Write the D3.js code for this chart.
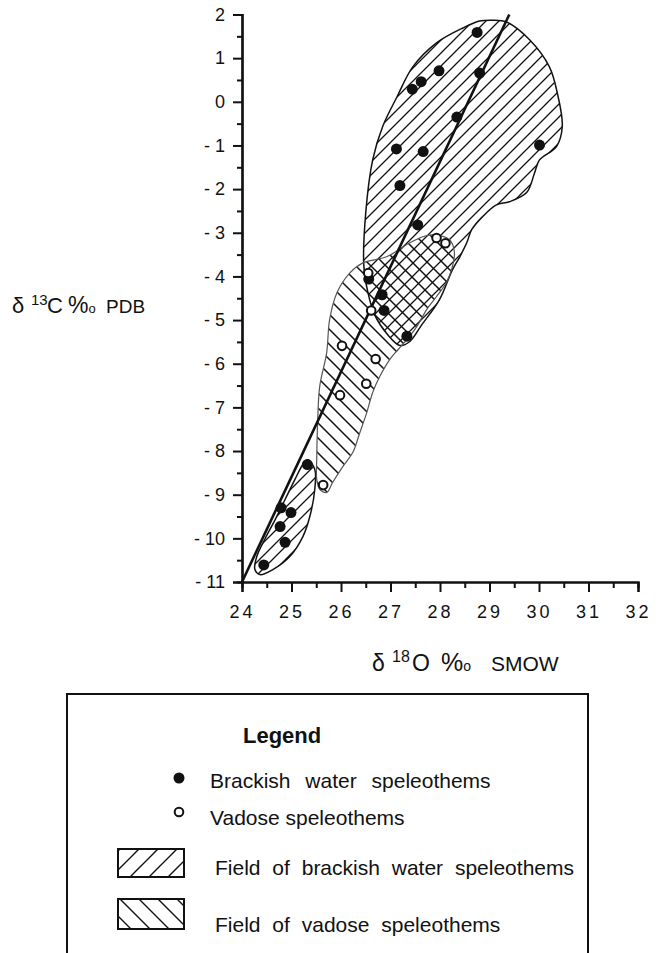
<!DOCTYPE html>
<html>
<head>
<meta charset="utf-8">
<script src="https://cdn.jsdelivr.net/npm/d3@7"></script>
<style>
  body { margin: 0; background: #fff; }
  svg { display: block; font-family: "Liberation Sans", Arial, sans-serif; }
</style>
</head>
<body>
<svg width="660" height="953"></svg>
<script>
// brackish water speleothems (filled dots)
const brackishX = [28.75, 27.98, 27.62, 27.44, 28.80, 28.34, 30.01, 27.12, 27.66, 27.19, 27.55,
                   26.56, 26.83, 26.87, 27.33, 25.32, 24.79, 24.99, 24.77, 24.87, 24.44];
const brackishY = [1.59, 0.71, 0.46, 0.29, 0.66, -0.35, -0.99, -1.08, -1.14, -1.92, -2.82,
                   -4.06, -4.42, -4.78, -5.37, -8.31, -9.30, -9.41, -9.73, -10.09, -10.61];

// vadose speleothems (open dots)
const vadoseX = [27.93, 28.11, 26.55, 26.61, 26.02, 26.70, 26.51, 25.98, 25.64];
const vadoseY = [-3.12, -3.24, -3.92, -4.78, -5.59, -5.89, -6.46, -6.72, -8.78];

// regression line end points
const trendLine = [[24, -11], [29.4, 2]];

// field outlines
const brackishField = [
  [29.06, 1.87], [29.34, 1.83], [29.81, 1.42], [30.21, 0.80], [30.37, 0.20], [30.47, -0.57],
  [30.35, -1.03], [30.01, -1.33], [29.91, -1.63], [29.75, -2.08], [29.40, -2.29], [29.14, -2.36],
  [28.86, -2.63], [28.64, -2.93], [28.54, -3.23], [28.40, -3.55], [28.25, -3.85], [27.99, -4.53],
  [27.63, -5.11], [27.39, -5.49], [27.19, -5.58], [26.94, -5.33], [26.68, -4.88], [26.54, -4.35],
  [26.46, -3.73], [26.50, -2.54], [26.64, -1.33], [26.84, -0.57], [27.13, 0.11], [27.45, 0.80],
  [27.93, 1.35], [28.46, 1.69], [28.80, 1.85]
];
const brackishFieldLow = [
  [25.33, -8.20], [25.47, -8.42], [25.47, -8.88], [25.37, -9.50], [25.23, -9.96], [24.97, -10.41],
  [24.63, -10.71], [24.36, -10.83], [24.26, -10.71], [24.30, -10.41], [24.46, -10.02], [24.67, -9.57],
  [24.87, -9.11], [25.07, -8.65], [25.23, -8.31]
];
const vadoseField = [
  [27.85, -3.05], [28.19, -3.16], [28.29, -3.43], [28.25, -3.78], [28.13, -4.14], [27.93, -4.46],
  [27.73, -4.76], [27.53, -5.15], [27.33, -5.45], [27.15, -5.68], [26.98, -5.91], [26.78, -6.30],
  [26.64, -6.66], [26.52, -7.12], [26.38, -7.58], [26.24, -8.03], [26.04, -8.35], [25.83, -8.72],
  [25.71, -8.95], [25.57, -8.88], [25.51, -8.65], [25.51, -8.19], [25.53, -7.28], [25.57, -6.52],
  [25.71, -5.75], [25.77, -4.99], [25.92, -4.37], [26.18, -3.92], [26.44, -3.69], [26.92, -3.55],
  [27.39, -3.23], [27.65, -3.09]
];

const xTicks = d3.range(24, 33, 1);
const yTicks = d3.range(-11, 3, 1);

const legendItems = ["Brackish water speleothems", "Vadose speleothems",
                     "Field of brackish water speleothems", "Field of vadose speleothems"];

const svg = d3.select("svg");
const x = d3.scaleLinear().domain([24, 32]).range([242, 638]);
const y = d3.scaleLinear().domain([-11, 2]).range([582, 14.5]);

// hatch patterns
const defs = svg.append("defs");
function hatch(id, s, dir, w) {
  const p = defs.append("pattern").attr("id", id)
    .attr("patternUnits", "userSpaceOnUse").attr("width", s).attr("height", s);
  const d = dir === "/"
    ? `M-1,1 l2,-2 M0,${s} l${s},${-s} M${s - 1},${s + 1} l2,-2`
    : `M-1,${s - 1} l2,2 M0,0 l${s},${s} M${s - 1},-1 l2,2`;
  p.append("path").attr("d", d).attr("stroke", "#111").attr("stroke-width", w);
}
hatch("hBrack", 13, "/", 1.3);
hatch("hVad", 15, "\\", 1.5);
hatch("lBrack", 19, "/", 1.4);
hatch("lVad", 19, "\\", 1.4);

const outline = d3.line().x(d => x(d[0])).y(d => y(d[1])).curve(d3.curveCatmullRomClosed);

svg.append("path").attr("d", outline(brackishField))
  .attr("fill", "url(#hBrack)").attr("stroke", "#111").attr("stroke-width", 1.5);
svg.append("path").attr("d", outline(brackishFieldLow))
  .attr("fill", "url(#hBrack)").attr("stroke", "#111").attr("stroke-width", 1.5);
svg.append("path").attr("d", outline(vadoseField))
  .attr("fill", "url(#hVad)").attr("stroke", "#555").attr("stroke-width", 1.2);

// axes
const fmt = d => d < 0 ? "- " + Math.abs(d) : String(d);
const yAxis = svg.append("g").attr("transform", `translate(${x(24)},0)`)
  .call(d3.axisLeft(y).tickValues(yTicks).tickFormat(fmt).tickSize(9).tickPadding(8));
svg.append("g").attr("transform", `translate(${x(24)},0)`)
  .call(d3.axisLeft(y).tickValues(yTicks.slice(0, -1).map(v => v + 0.5)).tickFormat("").tickSize(5));
const xAxis = svg.append("g").attr("transform", `translate(0,${y(-11)})`)
  .call(d3.axisBottom(x).tickValues(xTicks).tickSize(10).tickPadding(13));
svg.append("g").attr("transform", `translate(0,${y(-11)})`)
  .call(d3.axisBottom(x).tickValues(xTicks.slice(0, -1).map(v => v + 0.5)).tickFormat("").tickSize(6));

svg.selectAll(".domain").attr("stroke", "#111").attr("stroke-width", 2.2);
svg.selectAll(".tick line").attr("stroke", "#111").attr("stroke-width", 2);
yAxis.selectAll("text").attr("font-size", 18).attr("fill", "#111")
  .attr("font-family", "Liberation Sans, Arial, sans-serif");
xAxis.selectAll("text").attr("font-size", 18).attr("fill", "#111").attr("letter-spacing", 3)
  .attr("font-family", "Liberation Sans, Arial, sans-serif");

// trend line
svg.append("path")
  .attr("d", d3.line().x(d => x(d[0])).y(d => y(d[1]))(trendLine))
  .attr("stroke", "#111").attr("stroke-width", 2.6).attr("fill", "none");

// points
svg.append("g").selectAll("circle").data(d3.range(brackishX.length)).join("circle")
  .attr("cx", i => x(brackishX[i])).attr("cy", i => y(brackishY[i]))
  .attr("r", 5.5).attr("fill", "#111");
svg.append("g").selectAll("circle").data(d3.range(vadoseX.length)).join("circle")
  .attr("cx", i => x(vadoseX[i])).attr("cy", i => y(vadoseY[i]))
  .attr("r", 4.3).attr("fill", "#fff").attr("stroke", "#111").attr("stroke-width", 2);

// axis titles
const yt = svg.append("text").attr("y", 313).attr("fill", "#111");
yt.append("tspan").attr("x", 12).attr("font-size", 22).text("δ");
yt.append("tspan").attr("x", 31).attr("dy", -8).attr("font-size", 15).text("13");
yt.append("tspan").attr("x", 47).attr("dy", 8).attr("font-size", 22).text("C");
yt.append("tspan").attr("x", 68).attr("font-size", 23).text("%");
yt.append("tspan").attr("font-size", 13).text("o");
yt.append("tspan").attr("x", 106).attr("font-size", 19).text("PDB");

const xt = svg.append("text").attr("y", 671).attr("fill", "#111");
xt.append("tspan").attr("x", 372).attr("font-size", 23).text("δ");
xt.append("tspan").attr("x", 392).attr("dy", -9).attr("font-size", 16).text("18");
xt.append("tspan").attr("x", 412).attr("dy", 9).attr("font-size", 23).text("O");
xt.append("tspan").attr("x", 441).attr("font-size", 25).text("%");
xt.append("tspan").attr("font-size", 14).text("o");
xt.append("tspan").attr("x", 491).attr("font-size", 21).text("SMOW");

// legend
svg.append("path").attr("d", "M67,960 V694 H588 V960")
  .attr("fill", "none").attr("stroke", "#111").attr("stroke-width", 2);
svg.append("text").attr("x", 243).attr("y", 743).attr("font-size", 22)
  .attr("font-weight", "bold").attr("fill", "#111").text("Legend");
svg.append("circle").attr("cx", 179).attr("cy", 778).attr("r", 5.5).attr("fill", "#111");
svg.append("circle").attr("cx", 179).attr("cy", 812).attr("r", 4.3)
  .attr("fill", "#fff").attr("stroke", "#111").attr("stroke-width", 2);
svg.append("rect").attr("x", 118).attr("y", 849).attr("width", 66).attr("height", 28)
  .attr("fill", "url(#lBrack)").attr("stroke", "#111").attr("stroke-width", 2);
svg.append("rect").attr("x", 118).attr("y", 899).attr("width", 66).attr("height", 30)
  .attr("fill", "url(#lVad)").attr("stroke", "#111").attr("stroke-width", 2);

const legY = [788, 825, 875, 932];
const legX = [210, 210, 215, 215];
const legSpacing = [9, 0, 6, 6];
svg.append("g").selectAll("text").data(legendItems).join("text")
  .attr("x", (d, i) => legX[i]).attr("y", (d, i) => legY[i])
  .attr("font-size", 21).attr("word-spacing", (d, i) => legSpacing[i]).attr("fill", "#111")
  .text(d => d);
</script>
</body>
</html>
